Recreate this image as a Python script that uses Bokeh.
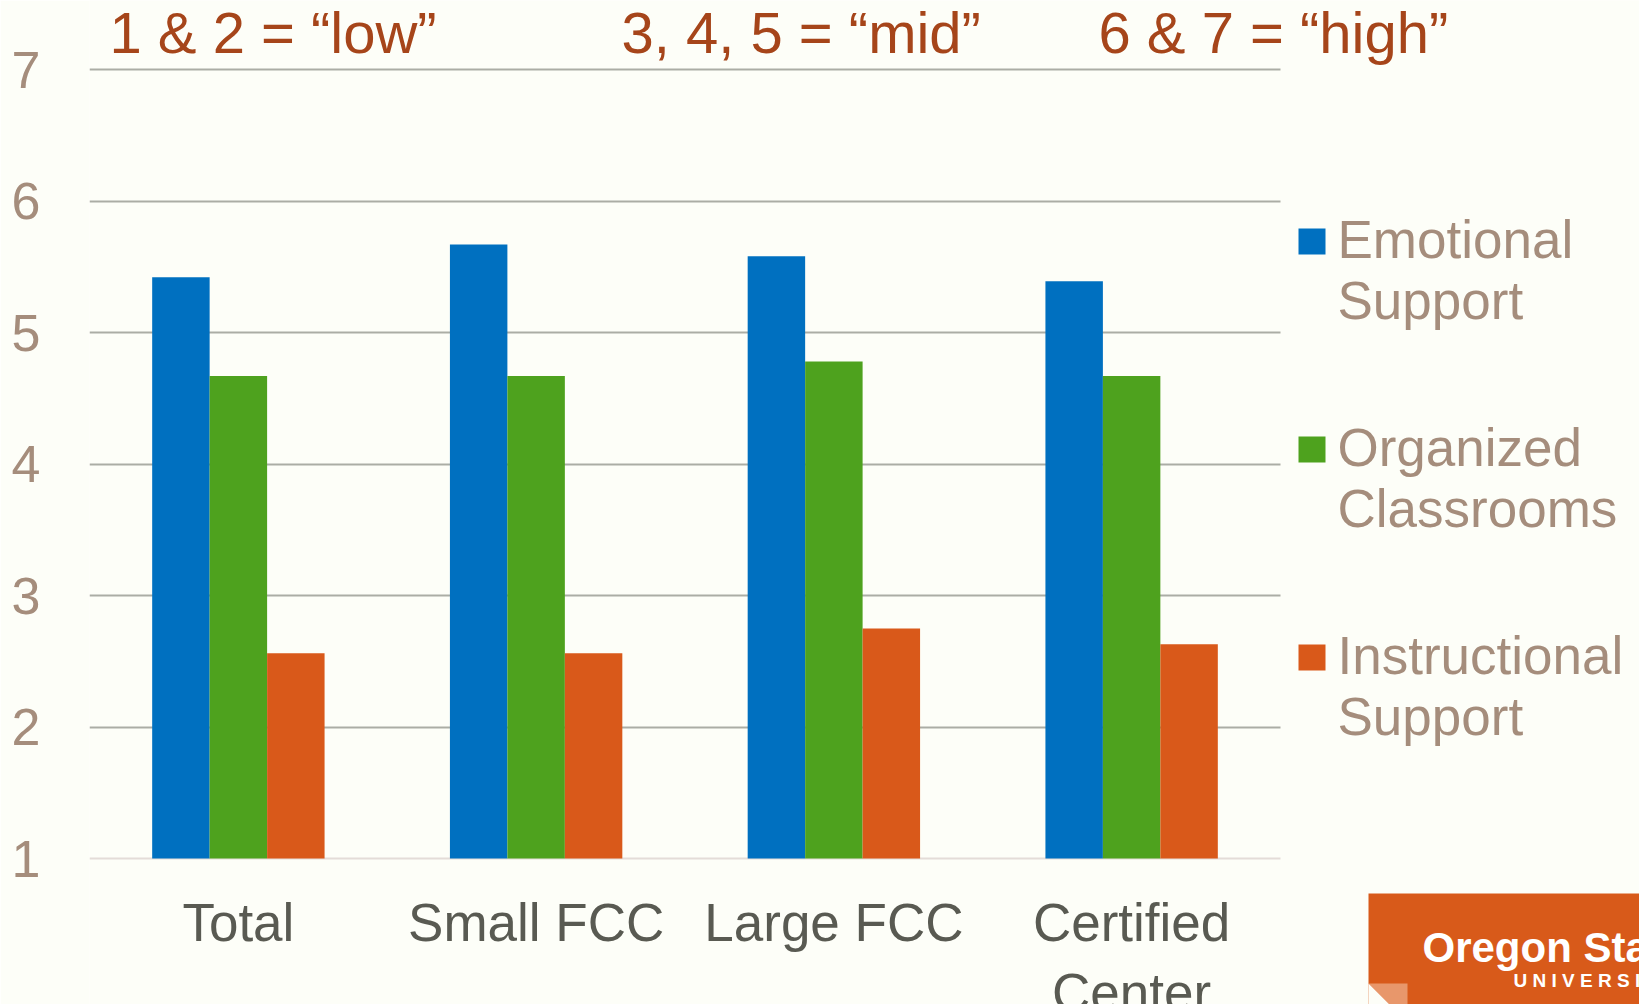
from bokeh.plotting import figure
from bokeh.models import (ColumnDataSource, Range1d, FixedTicker, Grid,
                          Label, BoxAnnotation, PolyAnnotation)
from bokeh.transform import dodge
from bokeh.core.properties import value
from bokeh.embed import file_html
from bokeh.resources import INLINE

# ---- data ----
categories = ["Total", "Small FCC", "Large FCC", "Certified Center"]
tick_labels = ["Total", "Small FCC", "Large FCC", "Certified\nCenter"]
emotional = [5.42, 5.67, 5.58, 5.39]
organized = [4.67, 4.67, 4.78, 4.67]
instructional = [2.56, 2.56, 2.75, 2.63]
series_names = ["Emotional Support", "Organized Classrooms", "Instructional Support"]
y_ticks = [1, 2, 3, 4, 5, 6, 7]
band_labels = ["1 & 2 = \u201clow\u201d", "3, 4, 5 = \u201cmid\u201d", "6 & 7 = \u201chigh\u201d"]

BG = "#FDFEF8"
BLUE, GREEN, ORANGE = "#0070C0", "#4EA21E", "#D9591A"
TAN = "#A58D7C"
FONT = "Liberation Sans"

W, H = 1639, 1004
LEFT = 89
CAT_PX = (1280 - 89) / 4.0
FRAME_W = W - LEFT
unit = (858 - 69) / 6.0
y0 = 1 - (H - 858) / unit
y1 = 7 + 69 / unit
DY = H - 988  # screen-unit offset relative to the frame bottom

p = figure(width=W, height=H, x_range=Range1d(0, FRAME_W / CAT_PX),
           y_range=Range1d(y0, y1), output_backend="svg", toolbar_location=None,
           x_axis_location=None, min_border_left=LEFT, min_border_right=0,
           min_border_top=0, min_border_bottom=0)
p.background_fill_color = BG
p.border_fill_color = BG
p.outline_line_color = None

xpos = [i + 0.5 for i in range(len(categories))]
src = ColumnDataSource(dict(x=xpos, cat=categories, label=tick_labels,
                            ly=[0.741] * len(categories), emotional=emotional,
                            organized=organized, instructional=instructional))
bw = 0.193
for field, off, col in [("emotional", -bw, BLUE), ("organized", 0, GREEN),
                        ("instructional", bw, ORANGE)]:
    p.vbar(x=dodge("x", off), top=field, bottom=1, width=bw,
           source=src, fill_color=col, line_color=None)

# grid lines (stop at the right end of the category area)
p.xgrid.visible = False
p.ygrid.ticker = FixedTicker(ticks=y_ticks[1:])
p.ygrid.grid_line_color = "#ABADA5"
p.ygrid.grid_line_width = 2
base = Grid(dimension=1, ticker=FixedTicker(ticks=y_ticks[:1]),
            grid_line_color="#E4DCD8", grid_line_width=2)
p.add_layout(base)
p.add_layout(BoxAnnotation(left=len(categories), fill_color=BG, fill_alpha=1,
                           line_color=None, level="underlay"))

ax = p.yaxis[0]
ax.ticker = FixedTicker(ticks=y_ticks)
ax.axis_line_color = None
ax.major_tick_line_color = None
ax.minor_tick_line_color = None
ax.major_tick_out = 0
ax.major_tick_in = 0
ax.major_label_text_font = FONT
ax.major_label_text_font_size = "52px"
ax.major_label_text_color = TAN
ax.major_label_standoff = 49

# category labels below the baseline
p.text(x="x", y="ly", text="label", source=src,
       text_align="center", text_baseline="top", text_font=value(FONT),
       text_font_size=value("53px"), text_color="#595A52", text_line_height=1.2)

# band labels on top
for txt, xs in zip(band_labels, [20, 532, 1009]):
    p.add_layout(Label(x=xs, y=956 + DY, x_units="screen", y_units="screen", text=txt,
                       text_font=FONT, text_font_size="58px", text_color="#A6451A",
                       text_baseline="alphabetic", text_align="left"))

# legend
for i, (name, col) in enumerate(zip(series_names, [BLUE, GREEN, ORANGE])):
    dy = 208 * i
    p.add_layout(BoxAnnotation(left=1209, right=1236, bottom=734 + DY - dy, top=760 + DY - dy,
                               left_units="screen", right_units="screen",
                               bottom_units="screen", top_units="screen",
                               fill_color=col, fill_alpha=1, line_color=None))
    first, second = name.split(" ", 1)
    for j, part in enumerate([first, second]):
        p.add_layout(Label(x=1248, y=749 + DY - dy - 61 * j, x_units="screen",
                           y_units="screen", text=part, text_font=FONT,
                           text_font_size="53px", text_color=TAN,
                           text_baseline="alphabetic", text_align="left"))

# logo
p.add_layout(BoxAnnotation(left=1279, right=1600, bottom=-20, top=95 + DY,
                           left_units="screen", right_units="screen",
                           bottom_units="screen", top_units="screen",
                           fill_color="#D85A1A", fill_alpha=1, line_color=None))
p.add_layout(PolyAnnotation(xs=[1279, 1318, 1318, 1301], ys=[21, 21, -1, -1],
                            xs_units="screen", ys_units="screen",
                            fill_color="#E8976B", fill_alpha=1, line_color=None))
p.add_layout(PolyAnnotation(xs=[1279, 1301, 1279], ys=[21, -1, -1],
                            xs_units="screen", ys_units="screen",
                            fill_color=BG, fill_alpha=1, line_color=None))
p.add_layout(Label(x=1333, y=41 + DY, x_units="screen", y_units="screen", text="Oregon State",
                   text_font=FONT, text_font_style="bold", text_font_size="42px",
                   text_color="white", text_baseline="alphabetic"))
p.add_layout(Label(x=1424, y=8 + DY, x_units="screen", y_units="screen",
                   text="U N I V E R S I T Y",
                   text_font=FONT, text_font_style="bold",
                   text_font_size="19px", text_color="white", text_baseline="alphabetic"))

open("out.html", "w").write(file_html(p, INLINE))
